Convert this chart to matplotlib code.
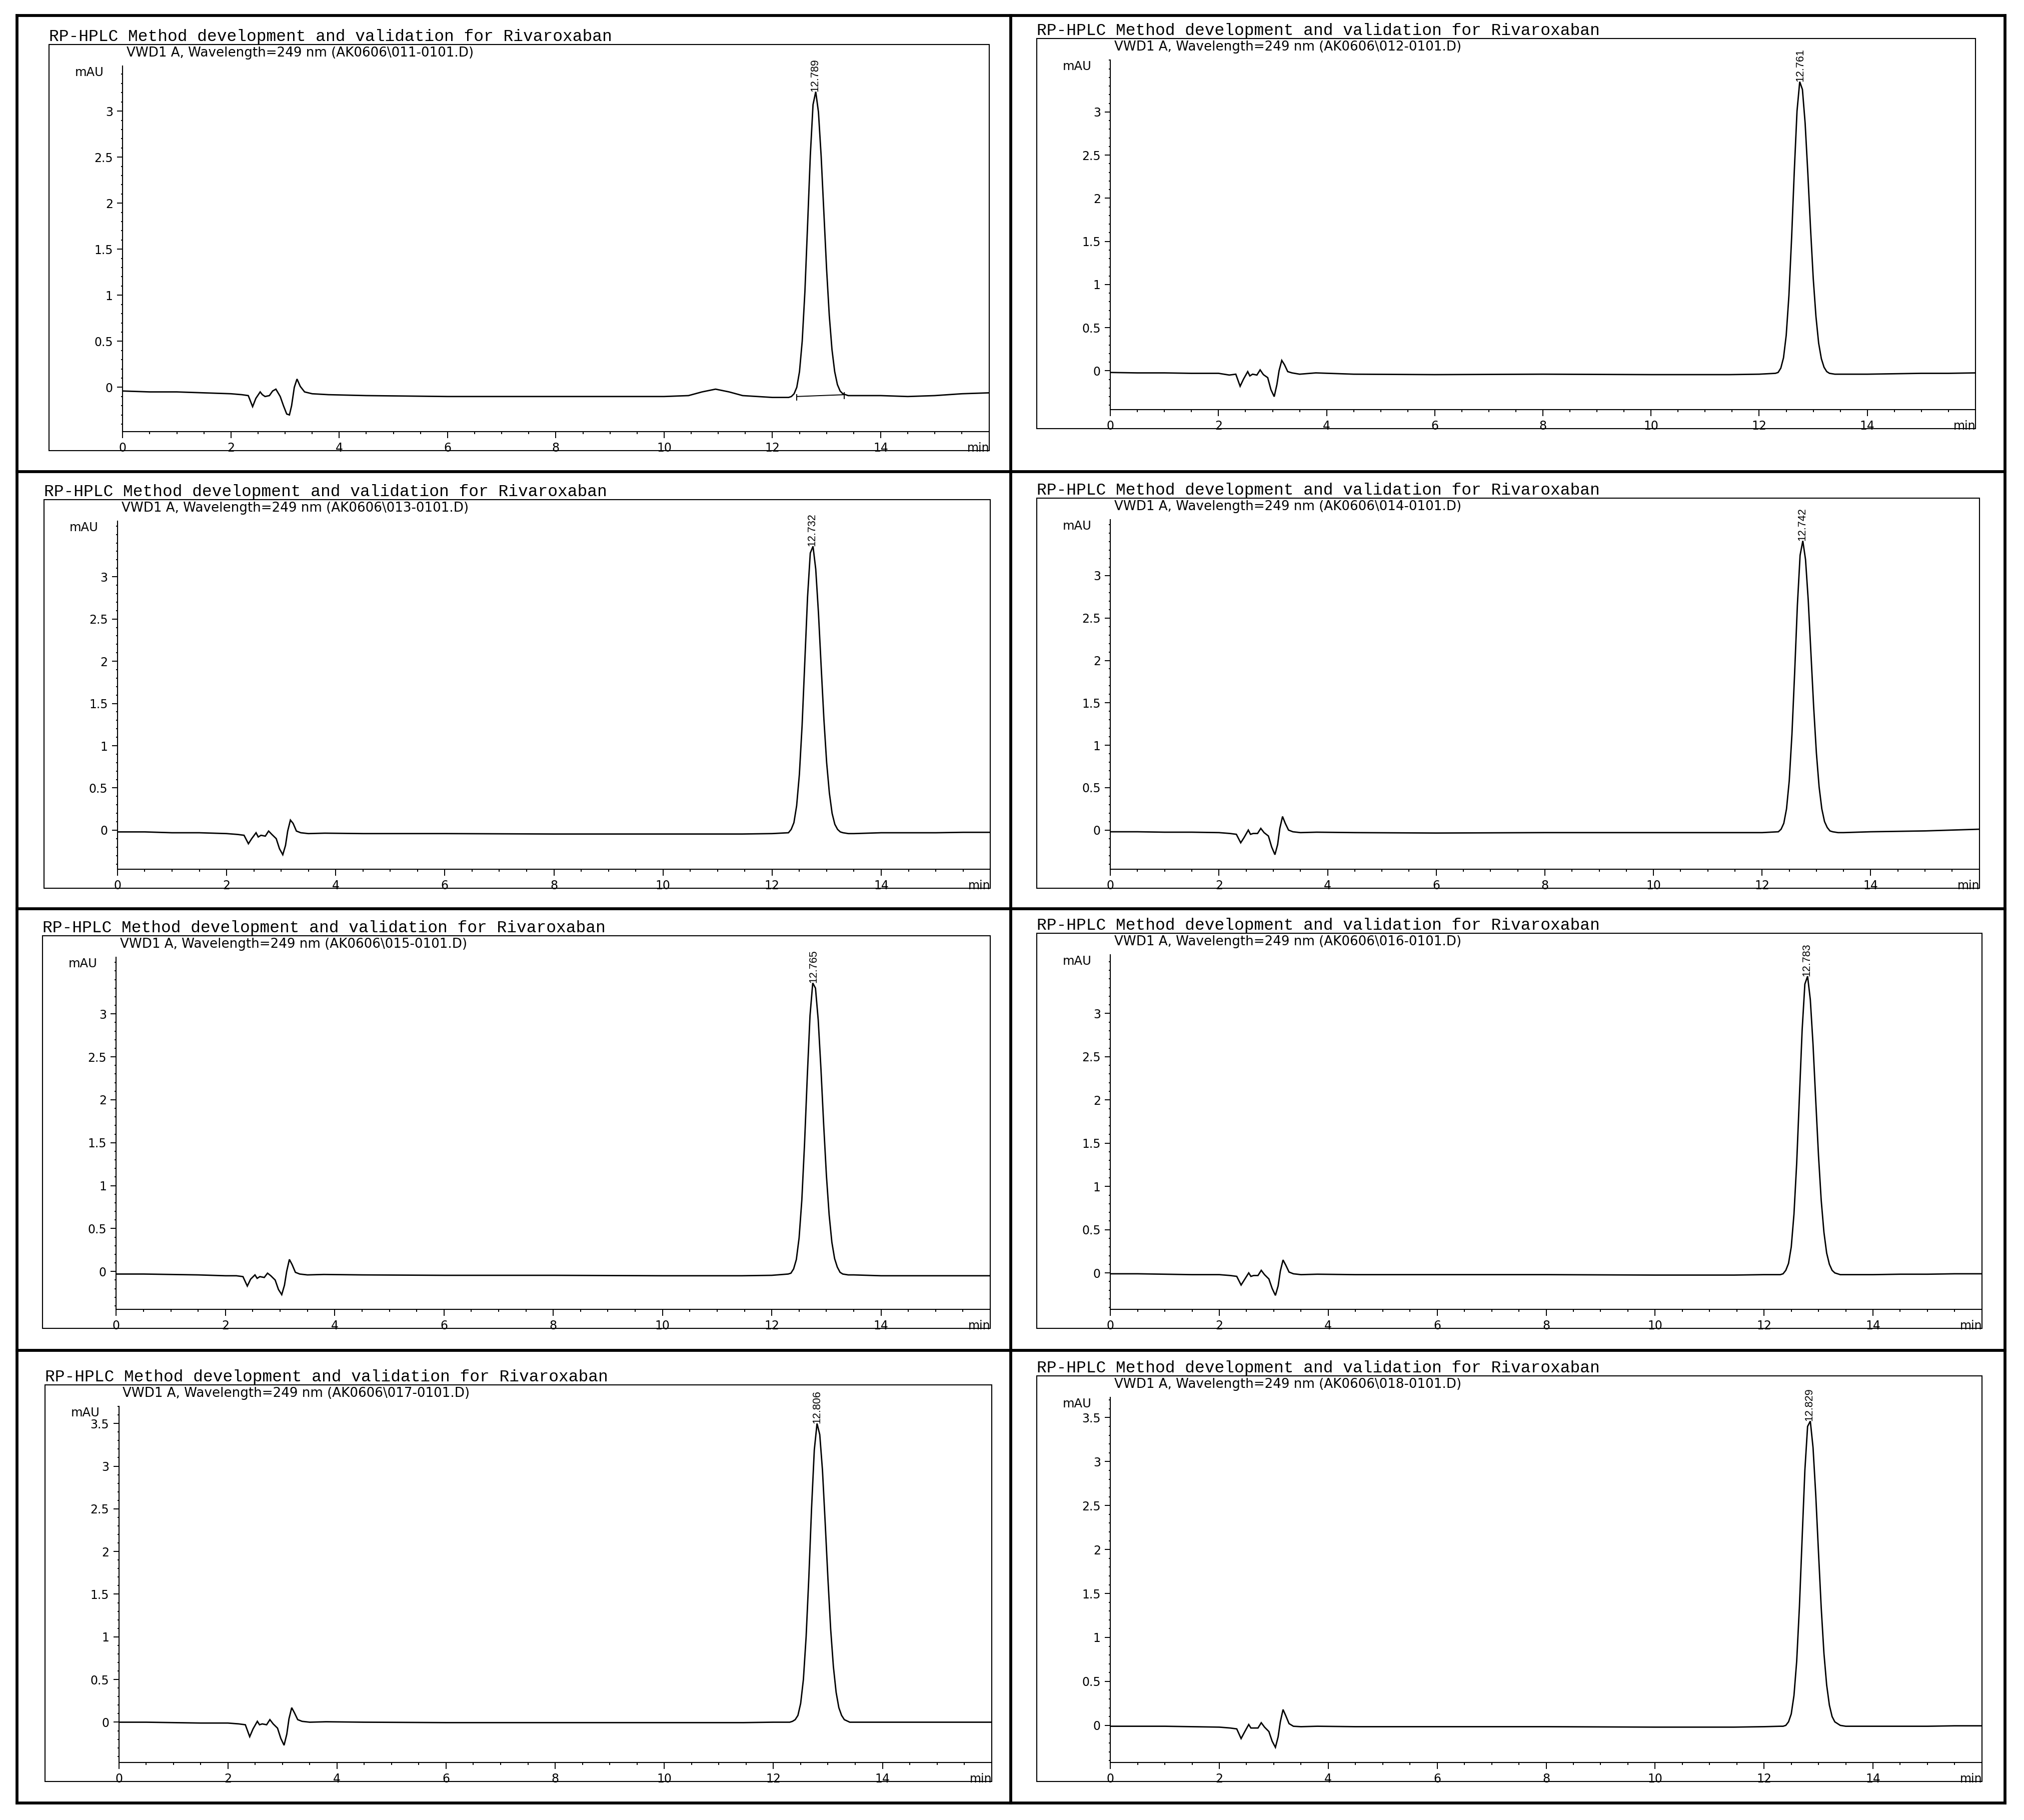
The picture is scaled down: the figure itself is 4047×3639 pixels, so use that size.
import numpy as np
import matplotlib
matplotlib.use("Agg")
import matplotlib.pyplot as plt
from matplotlib.patches import Rectangle
from matplotlib.lines import Line2D
from matplotlib.ticker import MultipleLocator, FixedLocator, FuncFormatter
from matplotlib import font_manager

# ---------------- data ----------------
TITLE = "RP-HPLC Method development and validation for Rivaroxaban"
FILE_IDS = ["011", "012", "013", "014", "015", "016", "017", "018"]
RT_LABELS = ["12.789", "12.761", "12.732", "12.742", "12.765", "12.783", "12.806", "12.829"]
RT_VALUES = [12.789, 12.761, 12.732, 12.742, 12.765, 12.783, 12.806, 12.829]

X_TICKS = [0, 2, 4, 6, 8, 10, 12, 14]
Y_TICKS_SHORT = [0, 0.5, 1, 1.5, 2, 2.5, 3]
Y_TICKS_LONG = [0, 0.5, 1, 1.5, 2, 2.5, 3, 3.5]

TIME_MIN = [0.0, 0.5, 1.0, 1.5, 2.0,
            2.2, 2.32, 2.4, 2.46, 2.54, 2.58, 2.63, 2.71, 2.77, 2.83,
            2.91, 2.97, 3.03, 3.08, 3.12, 3.17, 3.22, 3.28, 3.36, 3.5,
            3.8, 4.5, 6.0, 8.0, 10.0,
            10.45, 10.7, 10.95, 11.2, 11.45,
            12.0, 12.3,
            12.35, 12.4, 12.45, 12.5, 12.55, 12.6, 12.65, 12.7, 12.75, 12.8,
            12.85, 12.9, 12.95, 13.0, 13.05, 13.1, 13.15, 13.2, 13.25, 13.3,
            13.4, 13.5, 14.0, 14.5, 15.0, 15.5, 16.0]

MAU_011 = [-0.04, -0.05, -0.05, -0.06, -0.07,
           -0.08, -0.09, -0.21, -0.12, -0.05, -0.08, -0.10, -0.09, -0.04, -0.02,
           -0.10, -0.20, -0.29, -0.30, -0.20, 0.00, 0.09, 0.01, -0.05, -0.07,
           -0.08, -0.09, -0.10, -0.10, -0.10,
           -0.09, -0.05, -0.02, -0.05, -0.09,
           -0.11, -0.11,
           -0.10, -0.07, 0.00, 0.17, 0.50, 1.04, 1.77, 2.52, 3.07, 3.21,
           2.99, 2.51, 1.90, 1.29, 0.78, 0.41, 0.17, 0.03, -0.04, -0.07,
           -0.09, -0.09, -0.09, -0.10, -0.09, -0.07, -0.06]
MAU_012 = [-0.02, -0.025, -0.025, -0.03, -0.03,
           -0.05, -0.04, -0.18, -0.10, -0.01, -0.06, -0.04, -0.05, 0.01, -0.045,
           -0.08, -0.22, -0.30, -0.16, 0.00, 0.12, 0.07, -0.01, -0.025, -0.04,
           -0.025, -0.04, -0.045, -0.04, -0.045,
           -0.045, -0.045, -0.045, -0.045, -0.045,
           -0.04, -0.03,
           -0.02, 0.03, 0.15, 0.41, 0.87, 1.54, 2.32, 3.01, 3.35, 3.26,
           2.87, 2.29, 1.65, 1.07, 0.63, 0.32, 0.14, 0.04, -0.01, -0.03,
           -0.04, -0.04, -0.04, -0.035, -0.03, -0.03, -0.025]
MAU_013 = [-0.02, -0.02, -0.03, -0.03, -0.04,
           -0.05, -0.06, -0.16, -0.10, -0.03, -0.08, -0.06, -0.07, -0.01, -0.05,
           -0.10, -0.22, -0.29, -0.18, -0.01, 0.12, 0.08, -0.01, -0.03, -0.04,
           -0.035, -0.04, -0.04, -0.045, -0.045,
           -0.045, -0.045, -0.045, -0.045, -0.045,
           -0.04, -0.03,
           0.01, 0.09, 0.29, 0.66, 1.24, 2.00, 2.76, 3.28, 3.36, 3.09,
           2.57, 1.93, 1.31, 0.80, 0.44, 0.20, 0.07, 0.01, -0.02, -0.03,
           -0.04, -0.04, -0.03, -0.03, -0.03, -0.025, -0.025]
MAU_014 = [-0.02, -0.02, -0.025, -0.025, -0.03,
           -0.04, -0.05, -0.15, -0.09, 0.00, -0.05, -0.04, -0.04, 0.02, -0.03,
           -0.07, -0.20, -0.29, -0.17, 0.02, 0.16, 0.08, 0.00, -0.02, -0.03,
           -0.025, -0.03, -0.035, -0.03, -0.03,
           -0.03, -0.03, -0.03, -0.03, -0.03,
           -0.03, -0.02,
           0.01, 0.08, 0.25, 0.58, 1.13, 1.86, 2.65, 3.24, 3.41, 3.19,
           2.71, 2.08, 1.45, 0.91, 0.51, 0.25, 0.10, 0.03, -0.01, -0.02,
           -0.03, -0.03, -0.02, -0.015, -0.01, 0.0, 0.01]
MAU_015 = [-0.03, -0.03, -0.035, -0.04, -0.05,
           -0.05, -0.06, -0.17, -0.09, -0.04, -0.08, -0.06, -0.07, -0.02, -0.05,
           -0.10, -0.21, -0.27, -0.16, 0.00, 0.14, 0.08, -0.01, -0.03, -0.04,
           -0.035, -0.04, -0.045, -0.045, -0.05,
           -0.05, -0.05, -0.05, -0.05, -0.05,
           -0.045, -0.03,
           -0.02, 0.03, 0.14, 0.39, 0.83, 1.49, 2.27, 2.98, 3.36, 3.30,
           2.93, 2.36, 1.71, 1.12, 0.66, 0.34, 0.15, 0.05, -0.01, -0.03,
           -0.04, -0.04, -0.05, -0.05, -0.05, -0.05, -0.05]
MAU_016 = [-0.01, -0.01, -0.015, -0.02, -0.02,
           -0.03, -0.04, -0.14, -0.08, 0.00, -0.04, -0.03, -0.03, 0.03, -0.02,
           -0.07, -0.18, -0.26, -0.15, 0.02, 0.15, 0.09, 0.01, -0.01, -0.02,
           -0.015, -0.02, -0.02, -0.02, -0.025,
           -0.025, -0.025, -0.025, -0.025, -0.025,
           -0.02, -0.02,
           -0.01, 0.03, 0.11, 0.30, 0.68, 1.27, 2.04, 2.81, 3.34, 3.43,
           3.16, 2.64, 1.99, 1.36, 0.84, 0.47, 0.23, 0.10, 0.03, 0.00,
           -0.02, -0.02, -0.02, -0.015, -0.015, -0.01, -0.01]
MAU_017 = [0.0, 0.0, -0.005, -0.01, -0.01,
           -0.02, -0.03, -0.17, -0.08, 0.01, -0.03, -0.02, -0.03, 0.03, -0.02,
           -0.07, -0.19, -0.27, -0.14, 0.04, 0.17, 0.11, 0.03, 0.01, 0.0,
           0.005, 0.0, -0.005, -0.005, -0.005,
           -0.005, -0.005, -0.005, -0.005, -0.005,
           0.0, 0.0,
           0.01, 0.03, 0.08, 0.22, 0.50, 1.00, 1.70, 2.51, 3.19, 3.50,
           3.37, 2.95, 2.33, 1.68, 1.09, 0.65, 0.35, 0.17, 0.08, 0.03,
           0.0, 0.0, 0.0, 0.0, 0.0, 0.0, 0.0]
MAU_018 = [-0.01, -0.01, -0.01, -0.015, -0.02,
           -0.03, -0.04, -0.15, -0.08, 0.01, -0.03, -0.03, -0.03, 0.03, -0.02,
           -0.07, -0.18, -0.25, -0.13, 0.04, 0.18, 0.11, 0.02, -0.01, -0.015,
           -0.01, -0.015, -0.015, -0.015, -0.02,
           -0.02, -0.02, -0.02, -0.02, -0.02,
           -0.015, -0.01,
           -0.01, 0.00, 0.04, 0.13, 0.34, 0.73, 1.35, 2.13, 2.90, 3.40,
           3.46, 3.16, 2.62, 1.97, 1.34, 0.82, 0.46, 0.23, 0.10, 0.04,
           0.00, -0.01, -0.01, -0.01, -0.01, -0.005, -0.005]

# integration baseline drawn under the first peak (time, mAU)
BASELINE_011_T = [12.45, 13.33]
BASELINE_011_MAU = [-0.10, -0.08]

SERIES = [MAU_011, MAU_012, MAU_013, MAU_014, MAU_015, MAU_016, MAU_017, MAU_018]

# ---------------- layout (reference coords, 1568 x 1410 grid) ----------------
W, H = 1568.0, 1410.0
BOXES = [(38, 34.5, 766, 349), (803, 30, 1530, 332),
         (34, 387, 767, 688), (803, 386, 1533, 688),
         (33, 725, 767, 1029), (803, 723, 1535, 1029),
         (35, 1073, 768, 1380), (803, 1066, 1535, 1380)]
YLIMS = [(-0.48, 3.49), (-0.45, 3.60), (-0.46, 3.66), (-0.46, 3.66),
         (-0.44, 3.66), (-0.42, 3.68), (-0.47, 3.70), (-0.42, 3.73)]
YTICK_SETS = [Y_TICKS_SHORT] * 6 + [Y_TICKS_LONG] * 2


def fx(x):
    return x / W


def fy(y):
    return 1.0 - y / H


def has_font(name):
    try:
        font_manager.findfont(font_manager.FontProperties(family=name),
                              fallback_to_default=False)
        return True
    except Exception:
        return False


MONO = ["Liberation Mono", "DejaVu Sans Mono"]
SANS = ["DejaVu Sans"]
if has_font("Liberation Sans Narrow"):
    NARROW, NARROW_SIZE = ["Liberation Sans Narrow", "DejaVu Sans"], 17.0
elif has_font("Liberation Sans"):
    NARROW, NARROW_SIZE = ["Liberation Sans", "DejaVu Sans"], 15.5
else:
    NARROW, NARROW_SIZE = ["DejaVu Sans"], 13.5

plt.rcParams["font.family"] = SANS

fig = plt.figure(figsize=(40.48, 36.39), dpi=100)
fig.patch.set_facecolor("white")

LABEL_SIZE = 17
X_MAJ_LEN, X_PAD = 9, 6.5

for i in range(8):
    l, t, r, b = BOXES[i]
    # inner box
    fig.add_artist(Rectangle((fx(l), fy(b)), fx(r) - fx(l), fy(t) - fy(b),
                             transform=fig.transFigure, fill=False,
                             lw=1.5, ec="black"))
    # headings
    fig.text(fx(l), fy(t - 2.8), TITLE, family=MONO, fontsize=23.7,
             ha="left", va="baseline", color="black")
    fig.text(fx(l + 60), fy(t + 9.3),
             "VWD1 A, Wavelength=249 nm (AK0606\\" + FILE_IDS[i] + "-0101.D)",
             family=SANS, fontsize=18.8, ha="left", va="baseline")

    ax_l, ax_r = l + 57, r
    ax_t, ax_b = t + 16.6, b - 14.7
    ax = fig.add_axes([fx(ax_l), fy(ax_b), fx(ax_r) - fx(ax_l), fy(ax_t) - fy(ax_b)])
    ax.patch.set_alpha(0)
    for s in ("top", "right"):
        ax.spines[s].set_visible(False)
    for s in ("left", "bottom"):
        ax.spines[s].set_linewidth(1.5)

    y = SERIES[i]
    ax.plot(TIME_MIN, y, color="black", lw=2.0, solid_joinstyle="miter")

    if i == 0:
        ax.plot(BASELINE_011_T, BASELINE_011_MAU, color="black", lw=1.4)
        for tt, yy in zip(BASELINE_011_T, BASELINE_011_MAU):
            ax.plot([tt, tt], [yy - 0.04, yy + 0.02], color="black", lw=1.4)

    # retention time label
    ax.text(RT_VALUES[i], max(y), RT_LABELS[i], rotation=90, ha="center",
            va="bottom", family=NARROW, fontsize=NARROW_SIZE, clip_on=False)

    ax.set_xlim(0, 16)
    ax.set_ylim(*YLIMS[i])
    ax.xaxis.set_major_locator(FixedLocator(X_TICKS))
    ax.xaxis.set_minor_locator(MultipleLocator(0.5))
    ax.yaxis.set_major_locator(FixedLocator(YTICK_SETS[i]))
    ax.yaxis.set_minor_locator(MultipleLocator(0.1))
    fmt = FuncFormatter(lambda v, p: "%g" % v)
    ax.xaxis.set_major_formatter(fmt)
    ax.yaxis.set_major_formatter(fmt)
    ax.tick_params(axis="x", which="major", length=X_MAJ_LEN, width=1.4,
                   pad=X_PAD, labelsize=LABEL_SIZE)
    ax.tick_params(axis="x", which="minor", length=3.5, width=1.4)
    ax.tick_params(axis="y", which="major", length=8, width=1.4, pad=6,
                   labelsize=LABEL_SIZE)
    ax.tick_params(axis="y", which="minor", length=2.5, width=1.4)

    ax.annotate("min", xy=(15.8, 0), xycoords=("data", "axes fraction"),
                xytext=(0, -(X_MAJ_LEN + X_PAD)), textcoords="offset points",
                ha="center", va="top", fontsize=LABEL_SIZE, annotation_clip=False)
    fig.text(fx(ax_l - 14.7), fy(ax_t + 7.7), "mAU", ha="right", va="baseline",
             fontsize=17.5)

# outer frame and dividers
FRAME_LW = 4.2
L, R, T, B = 13, 1553, 12, 1397
for (x0, y0, x1, y1) in [(L, T, R, T), (L, B, R, B), (L, T, L, B), (R, T, R, B),
                         (783, T, 783, B), (L, 365.5, R, 365.5),
                         (L, 704, R, 704), (L, 1046, R, 1046)]:
    fig.add_artist(Line2D([fx(x0), fx(x1)], [fy(y0), fy(y1)],
                          transform=fig.transFigure, color="black",
                          lw=FRAME_LW, solid_capstyle="projecting"))

fig.savefig("out.png", dpi=100, facecolor="white")
